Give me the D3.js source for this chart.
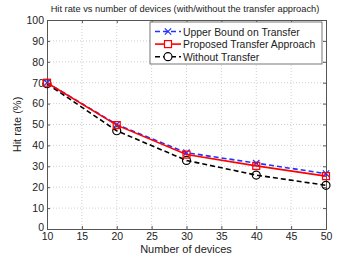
<!DOCTYPE html>
<html>
<head>
<meta charset="utf-8">
<script src="https://cdn.jsdelivr.net/npm/d3@7"></script>
<style>
body { margin: 0; background: #fff; }
svg text { font-family: "Liberation Sans", Arial, sans-serif; }
</style>
</head>
<body>
<script>
// data
const devices = [10, 20, 30, 40, 50]
const upperBound = [70, 50, 36.5, 31.5, 26.5]
const proposed = [70, 49.7, 35.6, 30.2, 25.3]
const without = [69.5, 47, 32.8, 25.8, 20.9]
const xTicks = [10, 15, 20, 25, 30, 35, 40, 45, 50]
const yTicks = [0, 10, 20, 30, 40, 50, 60, 70, 80, 90, 100]
const seriesNames = ["Upper Bound on Transfer", "Proposed Transfer Approach", "Without Transfer"]

function main() {
    const W = 360, H = 258
    const left = 47, right = 326, top = 20, bottom = 229

    const svg = d3.select("body").append("svg")
        .attr("width", W).attr("height", H)

    const x = d3.scaleLinear().domain([10, 50]).range([left, right])
    const y = d3.scaleLinear().domain([0, 100]).range([bottom, top])

    // grid
    svg.append("g").selectAll("line").data(xTicks.slice(1, -1)).enter().append("line")
        .attr("x1", d => x(d)).attr("x2", d => x(d))
        .attr("y1", top).attr("y2", bottom)
        .attr("stroke", "#bbb").attr("stroke-width", 0.7).attr("stroke-dasharray", "1,2")
    svg.append("g").selectAll("line").data(yTicks.slice(1, -1)).enter().append("line")
        .attr("y1", d => y(d)).attr("y2", d => y(d))
        .attr("x1", left).attr("x2", right)
        .attr("stroke", "#bbb").attr("stroke-width", 0.7).attr("stroke-dasharray", "1,2")

    // axes with inward ticks
    svg.append("g").attr("transform", "translate(0," + bottom + ")")
        .call(d3.axisBottom(x).tickValues(xTicks).tickSize(-3).tickPadding(4))
    const gy = svg.append("g").attr("transform", "translate(" + left + ",0)")
        .call(d3.axisLeft(y).tickValues(yTicks).tickSize(-3).tickPadding(3))
    svg.append("g").attr("transform", "translate(0," + top + ")")
        .call(d3.axisTop(x).tickValues(xTicks).tickSize(-3).tickFormat(""))
    svg.append("g").attr("transform", "translate(" + right + ",0)")
        .call(d3.axisRight(y).tickValues(yTicks).tickSize(-3).tickFormat(""))
    svg.selectAll(".domain").attr("stroke", "#555")
    svg.selectAll(".tick line").attr("stroke", "#555")
    svg.selectAll(".tick text").attr("font-size", 10.5).attr("fill", "#222")
        .attr("font-family", "Liberation Sans, Arial, sans-serif")
    // lift the "0" label a little so it clears the x labels
    gy.selectAll(".tick text").filter(d => d == 0).attr("dy", "0.1em")

    // labels
    svg.append("text").attr("x", 185).attr("y", 12).attr("text-anchor", "middle")
        .attr("font-size", 9.3).attr("fill", "#222")
        .text("Hit rate vs number of devices (with/without the transfer approach)")
    svg.append("text").attr("x", 186).attr("y", 253).attr("text-anchor", "middle")
        .attr("font-size", 11).attr("fill", "#222").text("Number of devices")
    svg.append("text").attr("transform", "translate(21," + ((top + bottom) / 2) + ") rotate(-90)")
        .attr("text-anchor", "middle").attr("font-size", 11).attr("fill", "#222")
        .text("Hit rate (%)")

    const line = d3.line().x((d, i) => x(devices[i])).y(d => y(d))

    // without transfer (black dashed, circles)
    svg.append("path").datum(without).attr("d", line).attr("fill", "none")
        .attr("stroke", "#000").attr("stroke-width", 1.6).attr("stroke-dasharray", "5,3")
    svg.append("g").selectAll("circle").data(without).enter().append("circle")
        .attr("cx", (d, i) => x(devices[i])).attr("cy", d => y(d)).attr("r", 4)
        .attr("fill", "none").attr("stroke", "#000").attr("stroke-width", 1.2)

    // upper bound (blue dashed, x)
    svg.append("path").datum(upperBound).attr("d", line).attr("fill", "none")
        .attr("stroke", "#2233ff").attr("stroke-width", 1.6).attr("stroke-dasharray", "5,3")
    svg.append("g").selectAll("path").data(upperBound).enter().append("path")
        .attr("d", d3.symbol(d3.symbolX, 28))
        .attr("transform", (d, i) => "translate(" + x(devices[i]) + "," + y(d) + ")")
        .attr("fill", "none").attr("stroke", "#2233ff").attr("stroke-width", 1.2)

    // proposed (red solid, squares)
    svg.append("path").datum(proposed).attr("d", line).attr("fill", "none")
        .attr("stroke", "#ff0000").attr("stroke-width", 1.6)
    svg.append("g").selectAll("rect").data(proposed).enter().append("rect")
        .attr("x", (d, i) => x(devices[i]) - 3.5).attr("y", d => y(d) - 3.5)
        .attr("width", 7).attr("height", 7)
        .attr("fill", "none").attr("stroke", "#ff0000").attr("stroke-width", 1.2)

    // legend
    const lg = svg.append("g")
    lg.append("rect").attr("x", 150).attr("y", 22).attr("width", 172).attr("height", 42)
        .attr("fill", "#fff").attr("stroke", "#555").attr("stroke-width", 0.8)
    const styles = [
        {color: "#2233ff", dash: "5,3"},
        {color: "#ff0000", dash: null},
        {color: "#000", dash: "5,3"}
    ]
    seriesNames.forEach((name, i) => {
        const ly = 31.5 + i * 12.6
        lg.append("line").attr("x1", 155).attr("x2", 181).attr("y1", ly).attr("y2", ly)
            .attr("stroke", styles[i].color).attr("stroke-width", 1.6)
            .attr("stroke-dasharray", styles[i].dash)
        if (i == 0) {
            lg.append("path").attr("d", d3.symbol(d3.symbolX, 28))
                .attr("transform", "translate(168," + ly + ")")
                .attr("stroke", styles[i].color).attr("fill", "none").attr("stroke-width", 1.2)
        } else if (i == 1) {
            lg.append("rect").attr("x", 164.5).attr("y", ly - 3.5).attr("width", 7).attr("height", 7)
                .attr("stroke", styles[i].color).attr("fill", "#fff").attr("stroke-width", 1.2)
        } else {
            lg.append("circle").attr("cx", 168).attr("cy", ly).attr("r", 4)
                .attr("stroke", styles[i].color).attr("fill", "#fff").attr("stroke-width", 1.2)
        }
        lg.append("text").attr("x", 183).attr("y", ly + 4).attr("font-size", 10.4)
            .attr("fill", "#222").text(name)
    })
}

main();
</script>
</body>
</html>
